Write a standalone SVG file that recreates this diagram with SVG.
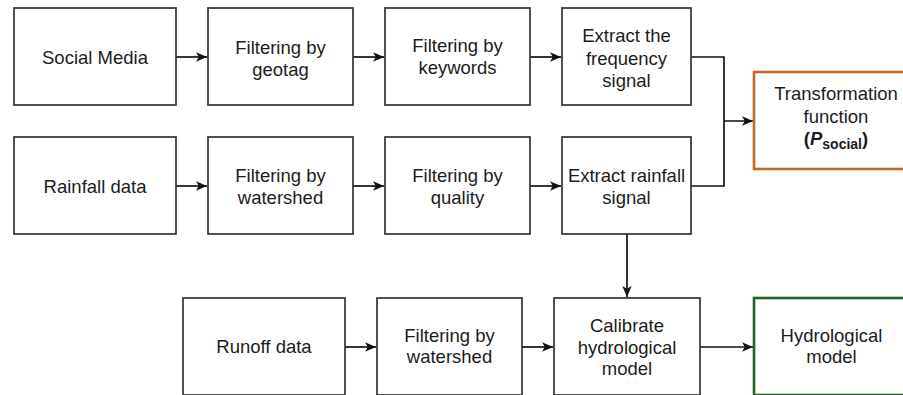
<svg xmlns="http://www.w3.org/2000/svg" width="903" height="395" viewBox="0 0 903 395">
<defs>
<marker id="ah" viewBox="0 0 11 11" refX="11" refY="5.5" markerWidth="11" markerHeight="11" markerUnits="userSpaceOnUse" orient="auto">
<path d="M0,0.8 L11,5.5 L0,10.2 L2.8,5.5 Z" fill="#111"/>
</marker>
<style>
.box{fill:#fff;stroke:#333;stroke-width:1.7}
.orange{fill:#fff;stroke:#c4692a;stroke-width:2.6}
.green{fill:#fff;stroke:#24622a;stroke-width:2.6}
text{font-family:"Liberation Sans",Arial,Helvetica,sans-serif;font-size:18.5px;fill:#1c1c1c;text-anchor:middle}
.edge{fill:none;stroke:#111;stroke-width:1.7}
</style>
</defs>
<rect width="903" height="395" fill="#fff"/>
<g id="edges">
<path class="edge" d="M176,57 H207" marker-end="url(#ah)"/>
<path class="edge" d="M353,57 H384" marker-end="url(#ah)"/>
<path class="edge" d="M530,57 H561" marker-end="url(#ah)"/>
<path class="edge" d="M176,186 H207" marker-end="url(#ah)"/>
<path class="edge" d="M353,186 H384" marker-end="url(#ah)"/>
<path class="edge" d="M530,186 H561" marker-end="url(#ah)"/>
<path class="edge" d="M691,57 H724 V121 H753" marker-end="url(#ah)"/>
<path class="edge" d="M691,186 H724 V121"/>
<path class="edge" d="M627,234 V297" marker-end="url(#ah)"/>
<path class="edge" d="M345,347 H376" marker-end="url(#ah)"/>
<path class="edge" d="M522,347 H553" marker-end="url(#ah)"/>
<path class="edge" d="M700,347 H753" marker-end="url(#ah)"/>
</g>
<g id="social-media"><rect class="box" x="14" y="8" width="162" height="97"/><text x="95" y="64">Social Media</text></g>
<g id="filter-geotag"><rect class="box" x="208" y="8" width="145" height="97"/><text x="280.5" y="54">Filtering by</text><text x="280.5" y="76">geotag</text></g>
<g id="filter-keywords"><rect class="box" x="385" y="8" width="145" height="97"/><text x="457.5" y="52">Filtering by</text><text x="457.5" y="74">keywords</text></g>
<g id="extract-frequency"><rect class="box" x="562" y="8" width="129" height="97"/><text x="626.5" y="42">Extract the</text><text x="626.5" y="64.5">frequency</text><text x="626.5" y="87">signal</text></g>
<g id="transformation"><rect class="orange" x="754" y="72" width="170" height="97"/><text x="836" y="100">Transformation</text><text x="836" y="122.5">function</text><text x="836" y="145" font-weight="bold">(<tspan font-style="italic">P</tspan><tspan font-size="14" dy="4">social</tspan><tspan dy="-4">)</tspan></text></g>
<g id="rainfall-data"><rect class="box" x="14" y="137" width="162" height="97"/><text x="95" y="193">Rainfall data</text></g>
<g id="filter-watershed-1"><rect class="box" x="208" y="137" width="145" height="97"/><text x="280.5" y="182">Filtering by</text><text x="280.5" y="204">watershed</text></g>
<g id="filter-quality"><rect class="box" x="385" y="137" width="145" height="97"/><text x="457.5" y="182">Filtering by</text><text x="457.5" y="204">quality</text></g>
<g id="extract-rainfall"><rect class="box" x="562" y="137" width="129" height="97"/><text x="626.5" y="182">Extract rainfall</text><text x="626.5" y="204">signal</text></g>
<g id="runoff-data"><rect class="box" x="183" y="298" width="162" height="97"/><text x="264" y="353">Runoff data</text></g>
<g id="filter-watershed-2"><rect class="box" x="377" y="298" width="145" height="97"/><text x="449.5" y="342">Filtering by</text><text x="449.5" y="363">watershed</text></g>
<g id="calibrate"><rect class="box" x="554" y="298" width="146" height="97"/><text x="627" y="332">Calibrate</text><text x="627" y="353.5">hydrological</text><text x="627" y="375">model</text></g>
<g id="hydrological-model"><rect class="green" x="754" y="298" width="160" height="97"/><text x="831.5" y="342">Hydrological</text><text x="831.5" y="362.5">model</text></g>
</svg>
